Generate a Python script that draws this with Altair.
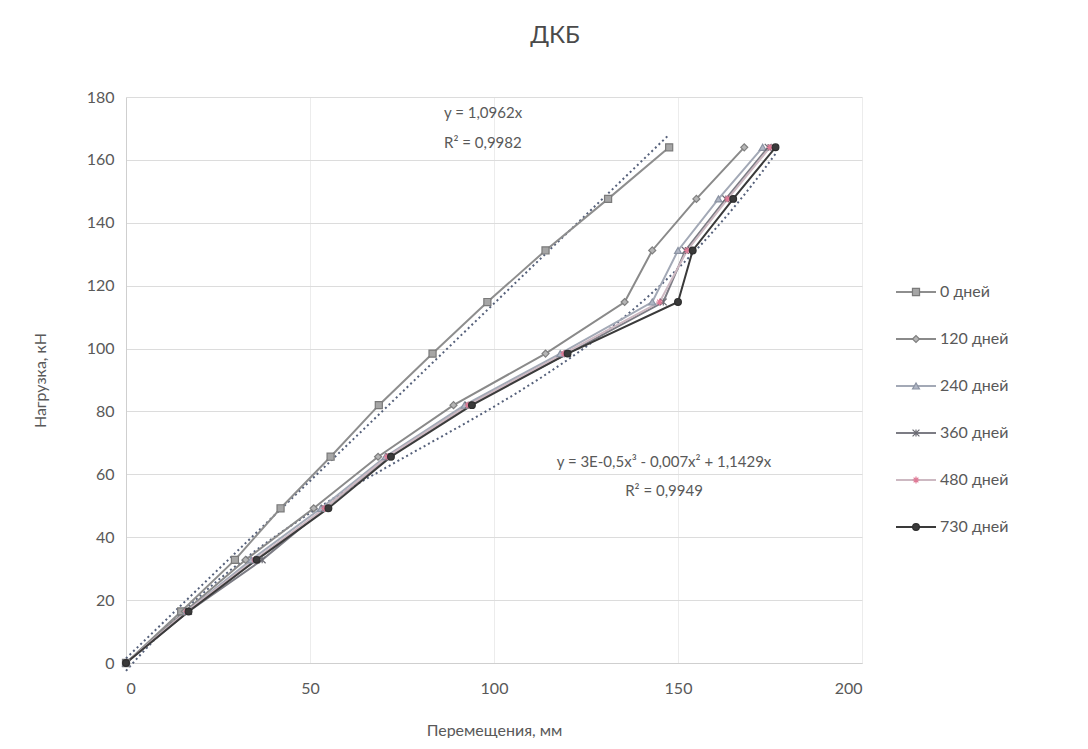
import altair as alt
import pandas as pd

# ---- data ----
loads = [0, 16.4, 32.8, 49.2, 65.6, 82.0, 98.4, 114.8, 131.2, 147.6, 164.0]
series = ["0 дней", "120 дней", "240 дней", "360 дней", "480 дней", "730 дней"]
disp_0 = [0, 15, 29.6, 42, 55.6, 68.7, 83.3, 98.2, 114, 131, 147.6]
disp_120 = [0, 16, 32.5, 51, 68.5, 89, 114, 135.5, 143, 155, 168]
disp_240 = [0, 16.5, 34, 53, 70.5, 92, 118, 143, 150, 161, 173]
disp_360 = [0, 17, 37, 54, 71.5, 93, 120, 146, 152, 163, 174.5]
disp_480 = [0, 16.5, 35, 54, 71, 93, 119, 145, 152.5, 163.5, 175]
disp_730 = [0, 17, 35.5, 55, 72, 94, 120, 150, 154, 165, 176.5]
x_ticks = [0, 50, 100, 150, 200]
y_ticks = [0, 20, 40, 60, 80, 100, 120, 140, 160, 180]
eq_linear = ["y = 1,0962x", "R² = 0,9982"]
eq_poly = ["y = 3E-0,5x³ - 0,007x² + 1,1429x", "R² = 0,9949"]

# ---- styles ----
FONT = "Lato"
TXT = "#595959"
line_colors = ["#8e8e8e", "#8a8a8a", "#a3a9b6", "#7c7c84", "#cdb9c2", "#3a3a3a"]
marker_fill = ["#a6a6a6", "#b5b5b5", "#b0b6c4", "#7c7c84", "#e39aae", "#3a3a3a"]
marker_stroke = ["#7a7a7a", "#7f7f7f", "#8b93a3", "#6a6a72", "#e07a96", "#2e2e2e"]
line_widths = [2, 2, 2, 2, 2, 2.8]
x_star = "M-1,-1L1,1M-1,1L1,-1M0,-1L0,1"
asterisk = "M-1,0L1,0M0,-1L0,1M-0.7,-0.7L0.7,0.7M-0.7,0.7L0.7,-0.7"
shapes = ["square", "diamond", "triangle-up", x_star, asterisk, "circle"]
sizes = [50, 45, 40, 40, 45, 18]

all_disp = [disp_0, disp_120, disp_240, disp_360, disp_480, disp_730]
rows = []
for s, d in zip(series, all_disp):
    for ld, dx in zip(loads, d):
        rows.append({"series": s, "disp": dx, "load": ld})
df = pd.DataFrame(rows)

W, H = 736, 566

xenc = alt.X("disp:Q", scale=alt.Scale(domain=[0, 200], nice=False),
             axis=alt.Axis(values=x_ticks, title="Перемещения, мм", grid=True,
                           gridColor="#ececec", domainColor="#cfcfcf", ticks=False,
                           labelPadding=17, titlePadding=26))
yenc = alt.Y("load:Q", scale=alt.Scale(domain=[0, 180], nice=False),
             axis=alt.Axis(values=y_ticks, title="Нагрузка, кН", grid=True,
                           gridColor="#dcdcdc", domainColor="#cfcfcf", ticks=False,
                           labelPadding=12, titlePadding=38))

base = alt.Chart(df)
lines = base.mark_line().encode(
    x=xenc, y=yenc,
    color=alt.Color("series:N", scale=alt.Scale(domain=series, range=line_colors), legend=None),
    strokeWidth=alt.StrokeWidth("series:N", scale=alt.Scale(domain=series, range=line_widths), legend=None),
    order=alt.Order("load:Q"),
)
points = base.mark_point(filled=True, opacity=1, strokeWidth=1.2).encode(
    x="disp:Q", y="load:Q",
    shape=alt.Shape("series:N", scale=alt.Scale(domain=series, range=shapes), legend=None),
    fill=alt.Fill("series:N", scale=alt.Scale(domain=series, range=marker_fill), legend=None),
    stroke=alt.Stroke("series:N", scale=alt.Scale(domain=series, range=marker_stroke), legend=None),
    size=alt.Size("series:N", scale=alt.Scale(domain=series, range=sizes), legend=None),
)
trend_lin = base.transform_filter(alt.datum.series == series[0]).transform_regression(
    "disp", "load", method="linear"
).mark_line(strokeDash=[2, 3], color="#55607a", strokeWidth=2).encode(x="disp:Q", y="load:Q")
trend_poly = base.transform_filter(alt.datum.series == series[5]).transform_regression(
    "disp", "load", method="poly", order=3
).mark_line(strokeDash=[2, 3], color="#55607a", strokeWidth=2).encode(x="disp:Q", y="load:Q")


def label(text, px, py, align):
    return alt.Chart(pd.DataFrame({"t": [text]})).mark_text(
        font=FONT, fontSize=15, color=TXT, align=align, baseline="middle"
    ).encode(text="t:N", x=alt.value(px), y=alt.value(py))


ann = [
    label(eq_linear[0], 318, 16, "left"),
    label(eq_linear[1], 318, 46, "left"),
    label(eq_poly[0], 538, 365, "center"),
    label(eq_poly[1], 538, 394, "center"),
]

main = alt.layer(trend_lin, trend_poly, lines, points, *ann).properties(width=W, height=H)

# ---- legend panel ----
leg_df = pd.DataFrame({"series": series})
leg_y = alt.Y("series:N", scale=alt.Scale(type="point", domain=series, range=[195, 430], padding=0),
              axis=None)
leg_base = alt.Chart(leg_df)
leg_rule = leg_base.mark_rule().encode(
    y=leg_y, x=alt.value(18), x2=alt.value(58),
    color=alt.Color("series:N", scale=alt.Scale(domain=series, range=line_colors), legend=None),
    strokeWidth=alt.StrokeWidth("series:N", scale=alt.Scale(domain=series, range=line_widths), legend=None),
)
leg_pt = leg_base.mark_point(filled=True, opacity=1, strokeWidth=1.2).encode(
    y=leg_y, x=alt.value(38),
    shape=alt.Shape("series:N", scale=alt.Scale(domain=series, range=shapes), legend=None),
    fill=alt.Fill("series:N", scale=alt.Scale(domain=series, range=marker_fill), legend=None),
    stroke=alt.Stroke("series:N", scale=alt.Scale(domain=series, range=marker_stroke), legend=None),
    size=alt.Size("series:N", scale=alt.Scale(domain=series, range=sizes), legend=None),
)
leg_txt = leg_base.mark_text(font=FONT, fontSize=16, color=TXT, align="left", baseline="middle").encode(
    y=leg_y, x=alt.value(62), text="series:N"
)
legend = alt.layer(leg_rule, leg_pt, leg_txt).properties(width=200, height=H)

chart = alt.hconcat(main, legend, spacing=16).properties(
    title=alt.TitleParams("ДКБ", font=FONT, fontSize=24, fontWeight="normal", color="#4a4a4a",
                          anchor="middle", offset=41),
    padding={"left": 24, "top": 16, "right": 0, "bottom": 0},
    background="white",
).configure_view(stroke=None).configure_axis(
    labelFont=FONT, titleFont=FONT, labelFontSize=16, titleFontSize=16,
    labelColor=TXT, titleColor=TXT, titleFontWeight="normal"
)

chart.save("out.html", embed_options={"renderer": "svg", "actions": False})
